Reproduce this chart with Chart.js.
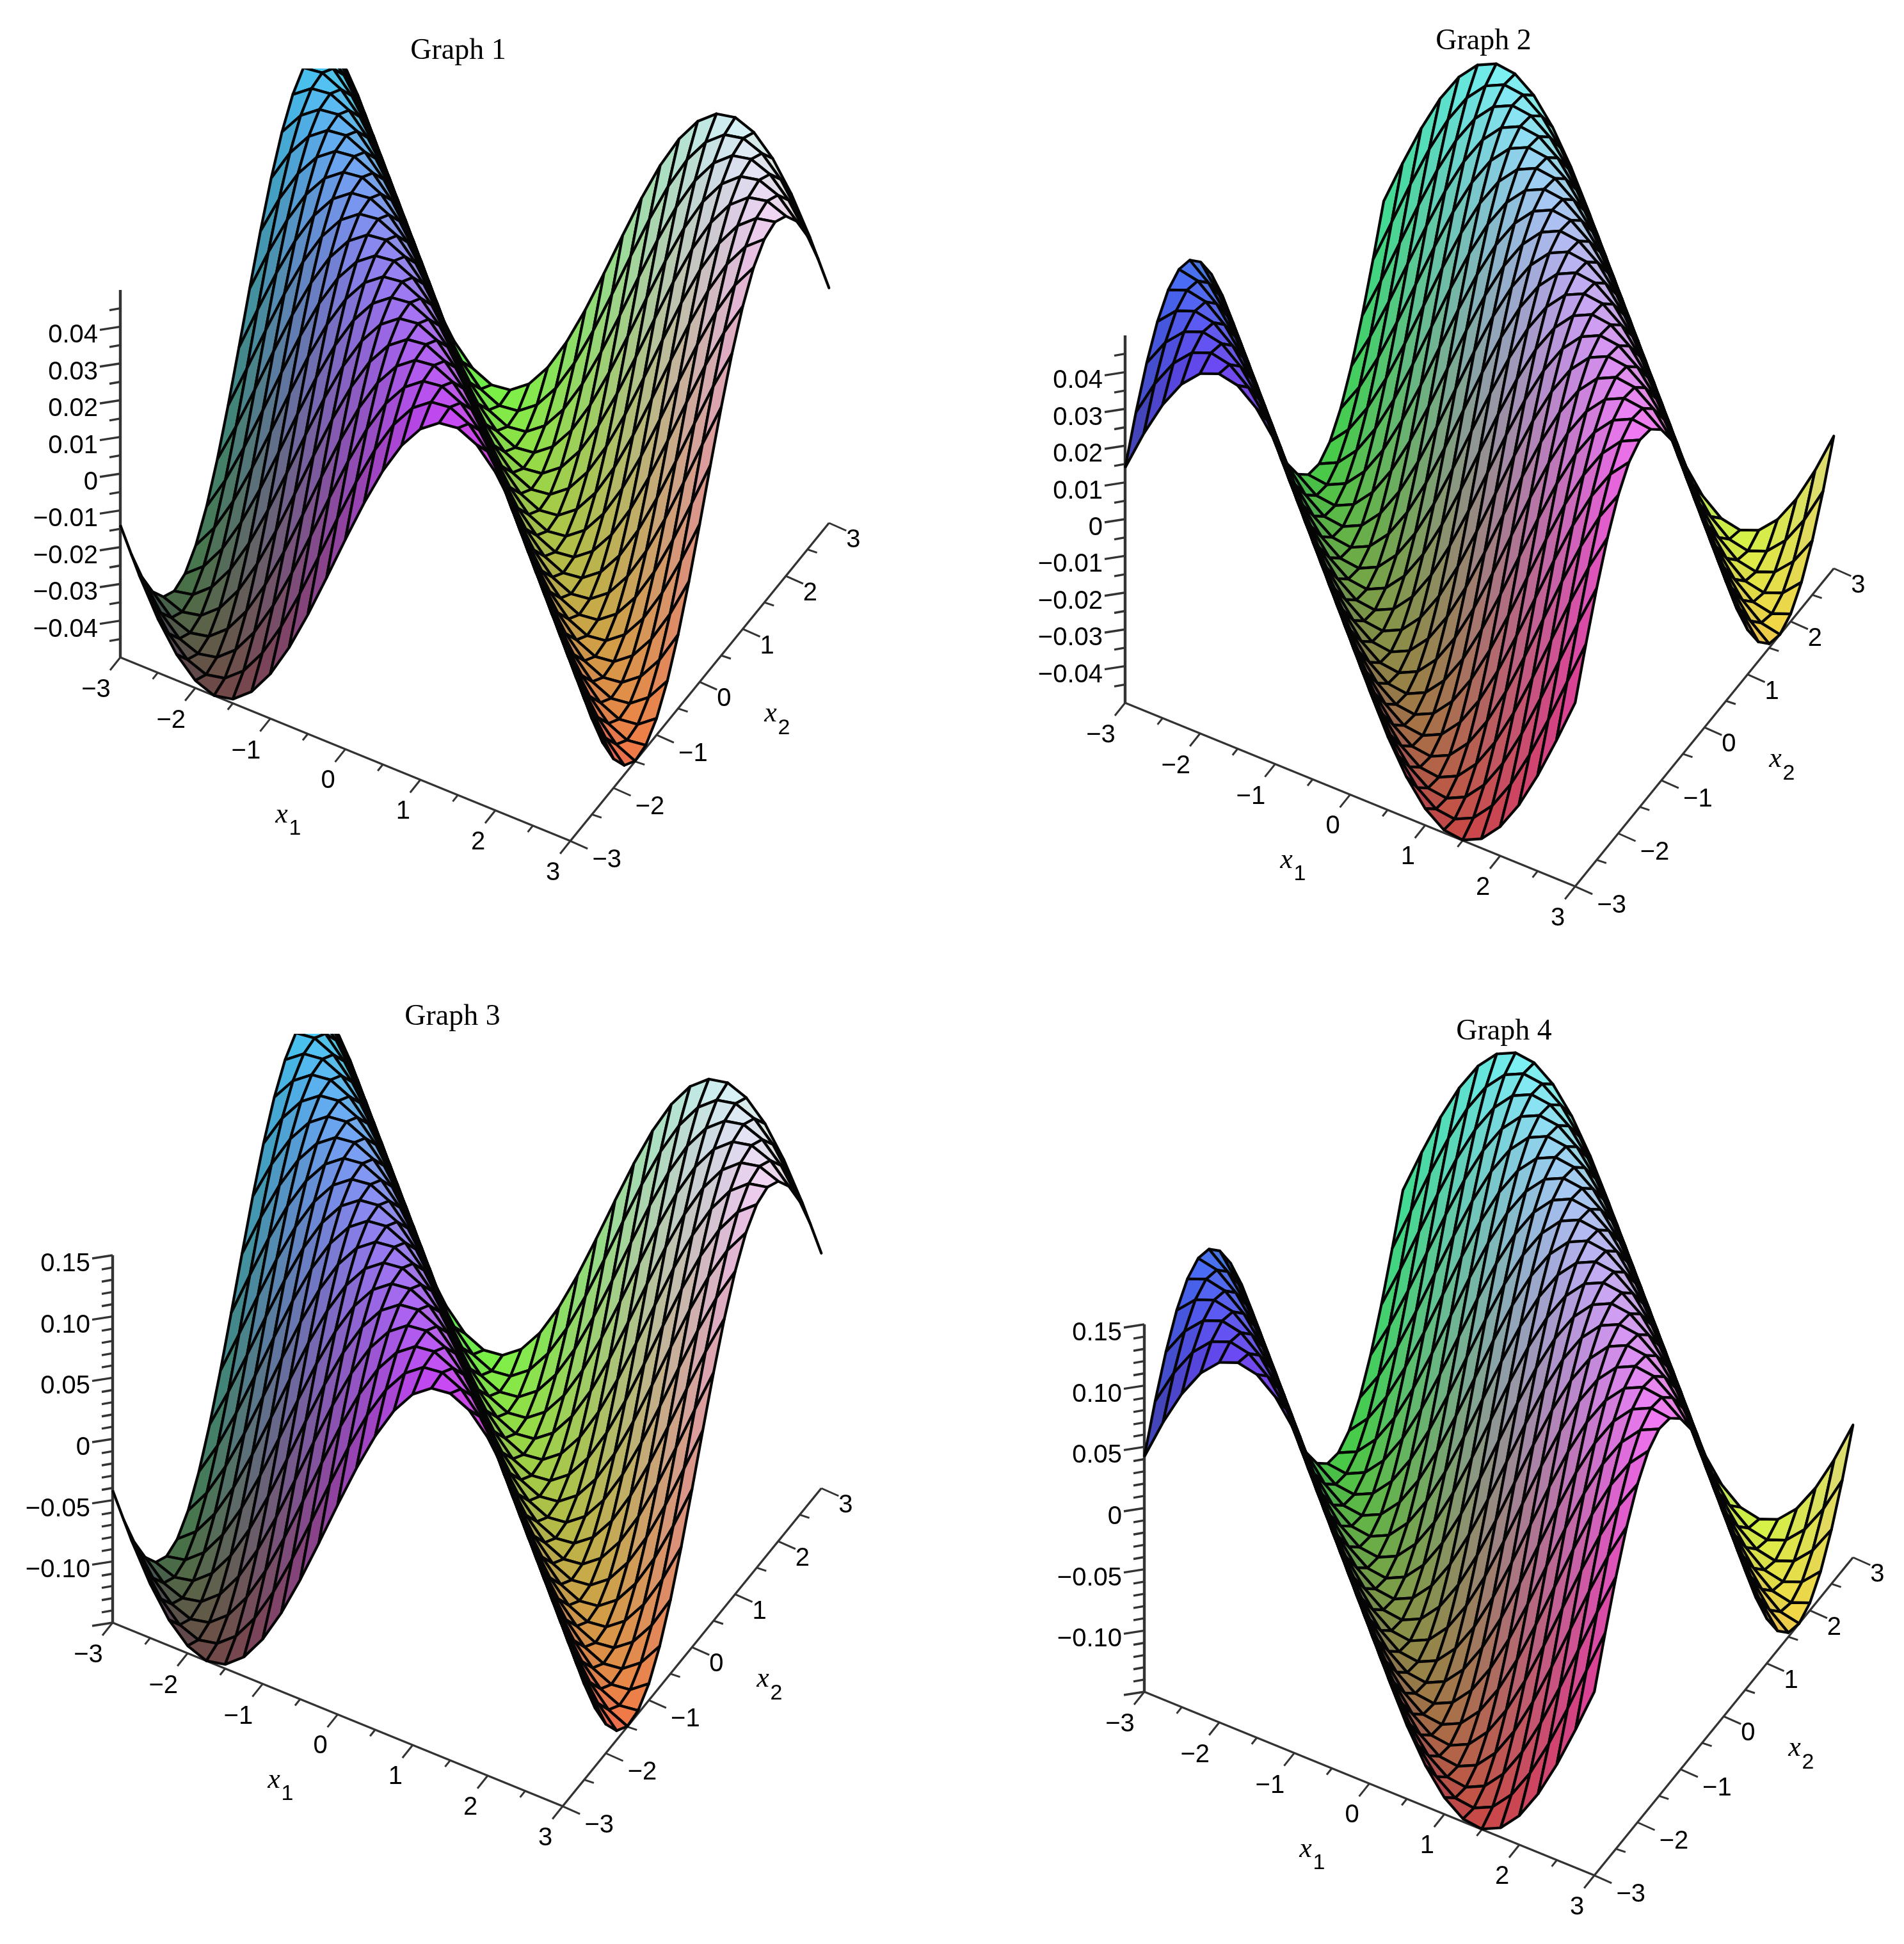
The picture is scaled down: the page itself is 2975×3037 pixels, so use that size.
<!DOCTYPE html>
<html>
<head>
<meta charset="utf-8">
<title>Graphs</title>
<script src="https://cdn.jsdelivr.net/npm/chart.js@4/dist/chart.umd.min.js"></script>
<style>
  html, body { margin: 0; padding: 0; background: #fff; }
  #page { position: relative; width: 2975px; height: 3037px; overflow: hidden; }
  canvas { position: absolute; filter: blur(0.6px); }
</style>
</head>
<body>
<div id="page"></div>
<script>
// grid of the plots, x1 and x2 both run over these 25 values
var gridValues = [-3,-2.75,-2.5,-2.25,-2,-1.75,-1.5,-1.25,-1,-0.75,-0.5,-0.25,0,0.25,0.5,0.75,1,1.25,1.5,1.75,2,2.25,2.5,2.75,3];

// heights, height only changes with grid index i+j (0..48)
var zGraph1 = [-0.01397,-0.02542,-0.03528,-0.04295,-0.04795,-0.04996,-0.04888,-0.04475,-0.03784,-0.02858,-0.01754,-0.00541,0.00706,0.01909,0.02992,0.0389,0.04546,0.0492,0.04987,0.04745,0.04207,0.03408,0.02397,0.01237,0,-0.01237,-0.02397,-0.03408,-0.04207,-0.04745,-0.04987,-0.0492,-0.04546,-0.0389,-0.02992,-0.01909,-0.00706,0.00541,0.01754,0.02858,0.03784,0.04475,0.04888,0.04996,0.04795,0.04295,0.03528,0.02542,0.01397];
var zGraph2 = [0.01397,0.02542,0.03528,0.04295,0.04795,0.04996,0.04888,0.04475,0.03784,0.02858,0.01754,0.00541,-0.00706,-0.01909,-0.02992,-0.0389,-0.04546,-0.0492,-0.04987,-0.04745,-0.04207,-0.03408,-0.02397,-0.01237,0,0.01237,0.02397,0.03408,0.04207,0.04745,0.04987,0.0492,0.04546,0.0389,0.02992,0.01909,0.00706,-0.00541,-0.01754,-0.02858,-0.03784,-0.04475,-0.04888,-0.04996,-0.04795,-0.04295,-0.03528,-0.02542,-0.01397];
var zGraph3 = [-0.0419,-0.0763,-0.1058,-0.1289,-0.1439,-0.1499,-0.1466,-0.1343,-0.1135,-0.0857,-0.0526,-0.0162,0.0212,0.0573,0.0898,0.1167,0.1364,0.1476,0.1496,0.1424,0.1262,0.1022,0.0719,0.0371,0,-0.0371,-0.0719,-0.1022,-0.1262,-0.1424,-0.1496,-0.1476,-0.1364,-0.1167,-0.0898,-0.0573,-0.0212,0.0162,0.0526,0.0857,0.1135,0.1343,0.1466,0.1499,0.1439,0.1289,0.1058,0.0763,0.0419];
var zGraph4 = [0.0419,0.0763,0.1058,0.1289,0.1439,0.1499,0.1466,0.1343,0.1135,0.0857,0.0526,0.0162,-0.0212,-0.0573,-0.0898,-0.1167,-0.1364,-0.1476,-0.1496,-0.1424,-0.1262,-0.1022,-0.0719,-0.0371,0,0.0371,0.0719,0.1022,0.1262,0.1424,0.1496,0.1476,0.1364,0.1167,0.0898,0.0573,0.0212,-0.0162,-0.0526,-0.0857,-0.1135,-0.1343,-0.1466,-0.1499,-0.1439,-0.1289,-0.1058,-0.0763,-0.0419];

// tick marks
var axisTicks = [-3,-2,-1,0,1,2,3];
var axisMinorTicks = [-2.5,-1.5,-0.5,0.5,1.5,2.5];
var axisLabels = ["\u22123","\u22122","\u22121","0","1","2","3"];

var zTicksSmall = [-0.04,-0.03,-0.02,-0.01,0,0.01,0.02,0.03,0.04];
var zLabelsSmall = ["\u22120.04","\u22120.03","\u22120.02","\u22120.01","0","0.01","0.02","0.03","0.04"];
var zMinorSmall = [-0.045,-0.035,-0.025,-0.015,-0.005,0.005,0.015,0.025,0.035,0.045];

var zTicksLarge = [-0.15,-0.10,-0.05,0,0.05,0.10,0.15];
var zLabelsLarge = ["","\u22120.10","\u22120.05","0","0.05","0.10","0.15"];
var zMinorLarge = [-0.14,-0.13,-0.12,-0.11,-0.09,-0.08,-0.07,-0.06,-0.04,-0.03,-0.02,-0.01,0.01,0.02,0.03,0.04,0.06,0.07,0.08,0.09,0.11,0.12,0.13,0.14];

var titles = ["Graph 1","Graph 2","Graph 3","Graph 4"];

// view of the plots on the page
var stepX1 = {x: 117.2, y: 47.8};
var stepX2 = {x: 67.35, y: -82.8};
var zPixels = 287;

var panels = [
    {title: titles[0], z: zGraph1, zMax: 0.05, ticks: zTicksSmall, labels: zLabelsSmall, minor: zMinorSmall,
     left: 0, top: 0, width: 1487, height: 1500, clipTop: 107, ox: 188, oy: 1027, titleX: 716, titleY: 80},
    {title: titles[1], z: zGraph2, zMax: 0.05, ticks: zTicksSmall, labels: zLabelsSmall, minor: zMinorSmall,
     left: 1487, top: 0, width: 1488, height: 1500, clipTop: 0, ox: 1758, oy: 1098, titleX: 2318, titleY: 65},
    {title: titles[2], z: zGraph3, zMax: 0.15, ticks: zTicksLarge, labels: zLabelsLarge, minor: zMinorLarge,
     left: 0, top: 1500, width: 1487, height: 1537, clipTop: 1615, ox: 176, oy: 2535, titleX: 707, titleY: 1589},
    {title: titles[3], z: zGraph4, zMax: 0.15, ticks: zTicksLarge, labels: zLabelsLarge, minor: zMinorLarge,
     left: 1487, top: 1500, width: 1488, height: 1537, clipTop: 1500, ox: 1788, oy: 2643, titleX: 2350, titleY: 1612}
];

function project(p, x1, x2, z) {
    return {
        x: p.ox + (x1 + 3) * stepX1.x + (x2 + 3) * stepX2.x,
        y: p.oy - zPixels + (x1 + 3) * stepX1.y + (x2 + 3) * stepX2.y - z / p.zMax * zPixels
    };
}

function channel(v) {
    return 0.27 + 0.69 * Math.pow(v, 0.9);
}

// xyz shading: x1 -> red, x2 -> green, height -> blue, steep parts a little darker
function cellColor(p, i, j) {
    var k = i + j;
    var zm = (p.z[k] + 2 * p.z[k + 1] + p.z[k + 2]) / 4;
    var r = (gridValues[i] + gridValues[i + 1] + 6) / 12;
    var g = (gridValues[j] + gridValues[j + 1] + 6) / 12;
    var b = (zm / p.zMax + 1) / 2;
    var steep = Math.abs(p.z[k + 2] - p.z[k]) / (p.zMax * 0.5);
    var light = 1 - 0.1 * steep;
    return "rgb(" + Math.round(255 * channel(r) * light) + "," + Math.round(255 * channel(g) * light) + "," + Math.round(255 * channel(b) * light) + ")";
}

function axisLine(a, b, width) {
    return {
        data: [a, b], showLine: true, pointRadius: 0, fill: false,
        borderColor: "#333", borderWidth: width
    };
}

function shifted(pt, dx, dy) {
    return {x: pt.x + dx, y: pt.y + dy};
}

function buildAxes(p) {
    var sets = [];
    var zLow = -p.zMax;
    var origin = project(p, -3, -3, zLow);
    var endX1 = project(p, 3, -3, zLow);
    var endX2 = project(p, 3, 3, zLow);
    var top = project(p, -3, -3, p.zMax);
    sets.push(axisLine(origin, endX1, 3.4));
    sets.push(axisLine(endX1, endX2, 3.4));
    sets.push(axisLine(origin, top, 4.4));

    axisTicks.forEach(function(t) {
        var a = project(p, t, -3, zLow);
        sets.push(axisLine(a, shifted(a, -16, 20), 3));
        var b = project(p, 3, t, zLow);
        sets.push(axisLine(b, shifted(b, 27, 12), 3));
    });
    axisMinorTicks.forEach(function(t) {
        var a = project(p, t, -3, zLow);
        sets.push(axisLine(a, shifted(a, -8, 10), 3));
        var b = project(p, 3, t, zLow);
        sets.push(axisLine(b, shifted(b, 15, 5), 3));
    });
    p.ticks.forEach(function(t) {
        var a = project(p, -3, -3, t);
        sets.push(axisLine(a, shifted(a, -32, 5), 3.4));
    });
    p.minor.forEach(function(t) {
        var a = project(p, -3, -3, t);
        sets.push(axisLine(a, shifted(a, -17, 3), 3.4));
    });
    return sets;
}

function buildSurface(p) {
    var sets = [];
    // back corner first so the nearer cells paint over it
    for (var i = 0; i < gridValues.length - 1; i++) {
        for (var j = gridValues.length - 2; j >= 0; j--) {
            var x0 = gridValues[i], x1 = gridValues[i + 1];
            var y0 = gridValues[j], y1 = gridValues[j + 1];
            var a = project(p, x0, y0, p.z[i + j]);
            var b = project(p, x1, y0, p.z[i + j + 1]);
            var c = project(p, x1, y1, p.z[i + j + 2]);
            var d = project(p, x0, y1, p.z[i + j + 1]);
            sets.push({
                data: [a, b, c, d, a],
                showLine: true, pointRadius: 0, fill: "shape", tension: 0,
                backgroundColor: cellColor(p, i, j),
                borderColor: "#050505", borderWidth: 4.2, borderJoinStyle: "round"
            });
        }
    }
    return sets;
}

var labelPlugin = {
    id: "plotLabels",
    afterDatasetsDraw: function(chart) {
        var p = chart.options.plugins.plotLabels.panel;
        var sx = chart.scales.x, sy = chart.scales.y;
        var ctx = chart.ctx;
        function put(text, pt, dx, dy) {
            ctx.fillText(text, sx.getPixelForValue(pt.x) + dx, sy.getPixelForValue(pt.y) + dy);
        }
        var zLow = -p.zMax;
        ctx.save();
        ctx.fillStyle = "#000";
        ctx.textBaseline = "middle";

        ctx.textAlign = "center";
        ctx.font = "46px 'Liberation Serif'";
        put(p.title, {x: p.titleX, y: p.titleY}, 0, 0);

        ctx.font = "40px 'Liberation Sans'";
        axisTicks.forEach(function(t, n) {
            var minus = axisLabels[n].length > 1;
            put(axisLabels[n], project(p, t, -3, zLow), minus ? -38 : -27, minus ? 51 : 50);
            put(axisLabels[n], project(p, 3, t, zLow), minus ? 57 : 38, minus ? 30 : 27);
        });

        ctx.textAlign = "right";
        p.ticks.forEach(function(t, n) {
            if (p.labels[n] !== "") put(p.labels[n], project(p, -3, -3, t), -35, 14);
        });

        // axis names
        var o = project(p, -3, -3, zLow);
        ctx.textAlign = "center";
        ctx.font = "italic 44px 'Liberation Serif'";
        put("x", o, 252, 246);
        put("x", o, 1016, 88);
        ctx.font = "34px 'Liberation Sans'";
        put("1", o, 273, 268);
        put("2", o, 1037, 111);
        ctx.restore();
    }
};

panels.forEach(function(p) {
    var canvas = document.createElement("canvas");
    canvas.width = p.width;
    canvas.height = p.height;
    canvas.style.left = p.left + "px";
    canvas.style.top = p.top + "px";
    canvas.style.width = p.width + "px";
    canvas.style.height = p.height + "px";
    document.getElementById("page").appendChild(canvas);

    // Chart.js paints dataset 0 last, so the nearest cell goes first and the axes go at the end
    var datasets = buildAxes(p).concat(buildSurface(p)).reverse();

    new Chart(canvas.getContext("2d"), {
        type: "scatter",
        data: {datasets: datasets},
        plugins: [labelPlugin],
        options: {
            responsive: false,
            animation: false,
            devicePixelRatio: 1,
            events: [],
            layout: {padding: {top: p.clipTop - p.top}},
            plugins: {
                legend: {display: false},
                tooltip: {enabled: false},
                plotLabels: {panel: p}
            },
            scales: {
                x: {type: "linear", display: false, min: p.left, max: p.left + p.width},
                y: {type: "linear", display: false, reverse: true, min: p.clipTop, max: p.top + p.height}
            }
        }
    });
});
</script>
</body>
</html>
